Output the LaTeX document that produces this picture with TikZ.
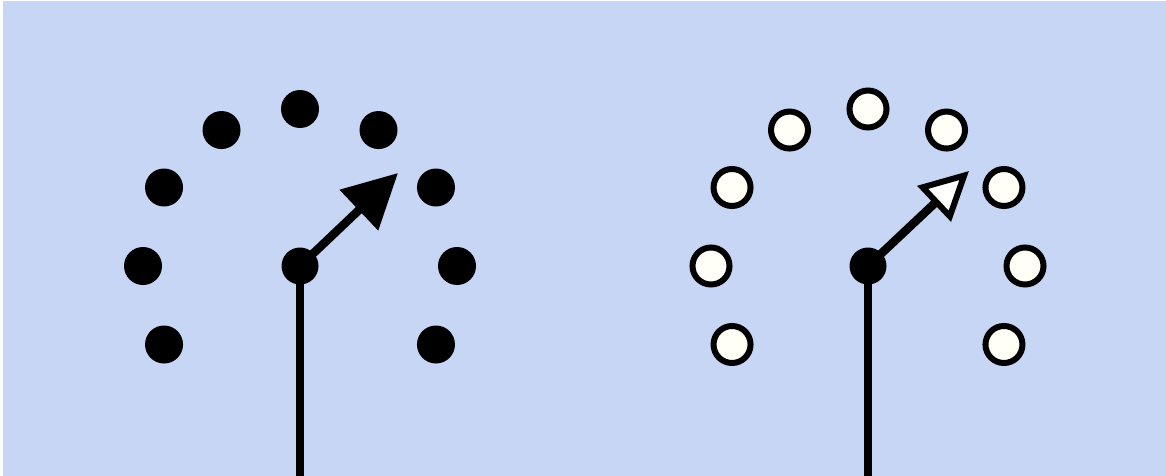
\documentclass[tikz,border=0pt]{standalone}
\usetikzlibrary{arrows.meta,calc}
\definecolor{bg}{HTML}{C6D6F4}
\definecolor{dotwhite}{HTML}{FFFFF8}
\tikzset{
  soliddot/.style={circle, fill=black, minimum size=38pt, inner sep=0pt},
  opendot/.style={circle, draw=black, line width=6pt, fill=dotwhite, minimum size=37pt, inner sep=0pt},
  hub/.style={circle, fill=black, minimum size=37pt, inner sep=0pt},
  stick/.style={line width=8.5pt},
  solidarrow/.style={line width=8.5pt, -{Triangle[length=54pt,width=54pt]}},
  openarrow/.style={line width=8.5pt, -{Triangle[open,fill=white,line width=6pt,length=48pt,width=48pt]}}
}
\begin{document}
\begin{tikzpicture}[x=1pt,y=-1pt]
\useasboundingbox (0,0) rectangle (1166,476);
\fill[white] (0,0) rectangle (1166,476);
\fill[bg] (3,1) rectangle (1166,476);
% left figure
\coordinate (lc) at (300,266);
\coordinate (lbot) at (300,476);
\coordinate (ltip) at (398,173);
\draw[stick] (lc) -- (lbot);
\draw[solidarrow] (lc) -- (ltip);
\node[hub] (lhub) at (lc) {};
\foreach \a [count=\i] in {180,150,120,90,60,30,0,-30,210}{
  \node[soliddot] (l\i) at ($(lc)+(-\a:157)$) {};
}
% right figure
\coordinate (rc) at (868,266);
\coordinate (rbot) at (868,476);
\coordinate (rtip) at (969,171);
\draw[stick] (rc) -- (rbot);
\draw[openarrow] (rc) -- (rtip);
\node[hub] (rhub) at (rc) {};
\foreach \a [count=\i] in {180,150,120,90,60,30,0,-30,210}{
  \node[opendot] (r\i) at ($(rc)+(-\a:157)$) {};
}
\end{tikzpicture}
\end{document}
